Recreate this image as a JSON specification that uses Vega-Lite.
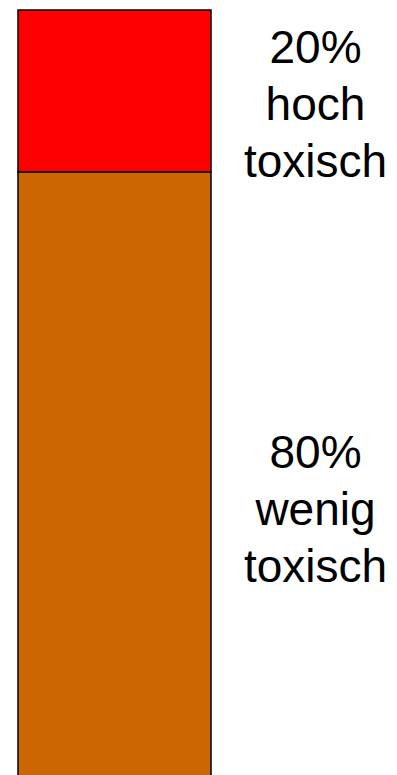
{
  "$schema": "https://vega.github.io/schema/vega-lite/v6.json",
  "width": 397,
  "height": 775,
  "autosize": {"type": "none"},
  "padding": 0,
  "background": "white",
  "config": {"view": {"stroke": null}},
  "data": {
    "values": [
      {"bar": "Anteil", "category": "hoch toxisch", "share": 20, "order": 2, "label": ["20%\u00a0", "hoch", "toxisch"]},
      {"bar": "Anteil", "category": "wenig toxisch", "share": 80, "order": 1, "label": ["80%", "\u00a0wenig", "\u00a0toxisch"]}
    ]
  },
  "transform": [
    {"stack": "share", "groupby": ["bar"], "sort": [{"field": "order", "order": "ascending"}], "as": ["y0", "y1"]},
    {"calculate": "(datum.y0 + datum.y1) / 2", "as": "ymid"}
  ],
  "layer": [
    {
      "mark": {"type": "bar", "stroke": "black", "strokeWidth": 1.5, "clip": true},
      "encoding": {
        "x": {"field": "bar", "type": "nominal", "scale": {"paddingInner": 0, "paddingOuter": 0.5285, "align": 0.0882}, "axis": null},
        "y": {"field": "y0", "type": "quantitative", "scale": {"domain": [5.56, 101.23], "nice": false, "zero": false}, "axis": null},
        "y2": {"field": "y1"},
        "color": {"field": "category", "type": "nominal", "scale": {"domain": ["hoch toxisch", "wenig toxisch"], "range": ["#ff0000", "#cc6600"]}, "legend": null}
      }
    },
    {
      "mark": {"type": "text", "font": "Liberation Sans", "fontSize": 46, "lineHeight": 57, "baseline": "alphabetic", "align": "center", "dx": 201, "dy": -28, "color": "black"},
      "encoding": {
        "x": {"field": "bar", "type": "nominal"},
        "y": {"field": "ymid", "type": "quantitative"},
        "text": {"field": "label"}
      }
    }
  ]
}
